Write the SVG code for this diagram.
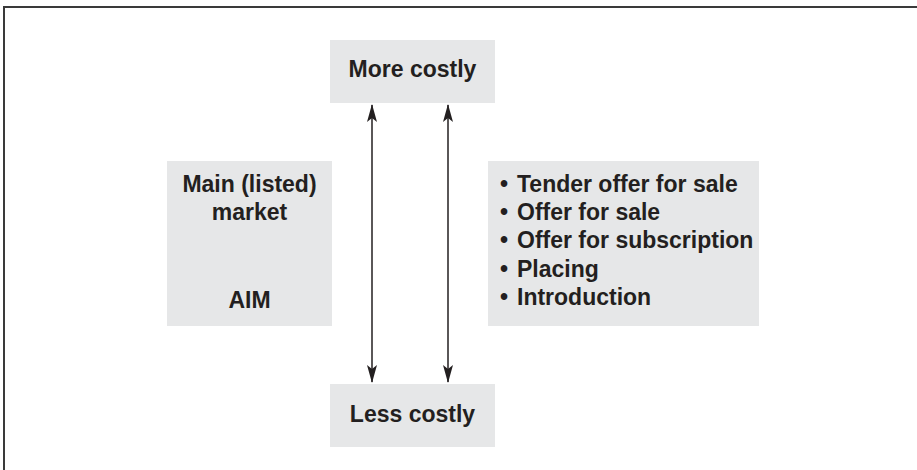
<svg xmlns="http://www.w3.org/2000/svg" width="917" height="470" viewBox="0 0 917 470">
  <style>
    .box { fill: #e6e7e8; }
    .t { font-family: "Liberation Sans", Arial, sans-serif; font-weight: bold; font-size: 23px; fill: #231f20; }
    .c { text-anchor: middle; }
    .conn { stroke: #231f20; stroke-width: 1.5; fill: none; }
    .frame { stroke: #3a3a3a; stroke-width: 2; fill: none; }
  </style>
  <defs>
    <marker id="ah" viewBox="0 0 18 10" refX="17" refY="5" markerWidth="18" markerHeight="10" markerUnits="userSpaceOnUse" orient="auto-start-reverse">
      <path d="M0,0 L18,5 L0,10 L4,5 Z" fill="#231f20"/>
    </marker>
  </defs>
  <rect width="917" height="470" fill="#ffffff"/>
  <path class="frame" d="M4,470 L4,7 L917,7"/>

  <g id="more-costly">
    <rect class="box" x="330" y="40" width="165" height="63"/>
    <text class="t c" x="412.5" y="77">More costly</text>
  </g>

  <g id="markets">
    <rect class="box" x="167" y="161" width="165" height="165"/>
    <text class="t c" x="249.5" y="192">Main (listed)</text>
    <text class="t c" x="249.5" y="220">market</text>
    <text class="t c" x="249.5" y="308">AIM</text>
  </g>

  <g id="methods">
    <rect class="box" x="488" y="161" width="271" height="165"/>
    <text class="t"><tspan x="500" y="192">•</tspan><tspan x="517" y="192">Tender offer for sale</tspan></text>
    <text class="t"><tspan x="500" y="220">•</tspan><tspan x="517" y="220">Offer for sale</tspan></text>
    <text class="t"><tspan x="500" y="248">•</tspan><tspan x="517" y="248">Offer for subscription</tspan></text>
    <text class="t"><tspan x="500" y="277">•</tspan><tspan x="517" y="277">Placing</tspan></text>
    <text class="t"><tspan x="500" y="305">•</tspan><tspan x="517" y="305">Introduction</tspan></text>
  </g>

  <g id="less-costly">
    <rect class="box" x="330" y="384" width="165" height="63"/>
    <text class="t c" x="412.5" y="422">Less costly</text>
  </g>

  <g id="connectors">
    <line class="conn" x1="372" y1="105" x2="372" y2="382" marker-start="url(#ah)" marker-end="url(#ah)"/>
    <line class="conn" x1="448" y1="105" x2="448" y2="382" marker-start="url(#ah)" marker-end="url(#ah)"/>
  </g>
</svg>
